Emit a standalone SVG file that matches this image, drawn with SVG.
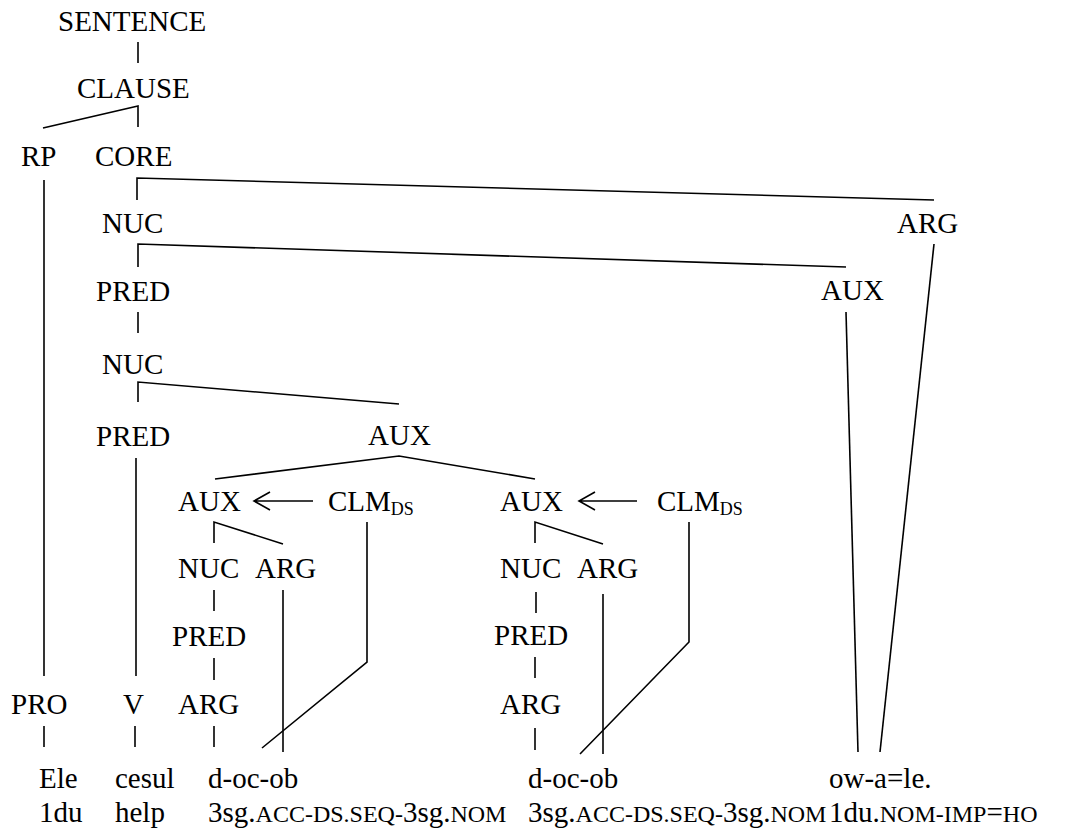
<svg xmlns="http://www.w3.org/2000/svg" width="1067" height="829" viewBox="0 0 1067 829">
  <style>
    text { font-family: "Liberation Serif", "Times New Roman", serif; font-size: 29px; fill: #000; }
    .sc { font-size: 24px; }
    .sub { font-size: 18px; }
    .edge { fill: none; stroke: #000; stroke-width: 1.6; }
  </style>
  <rect width="1067" height="829" fill="#fff"/>

  <!-- tree edges -->
  <g id="connectors" class="edge">
    <path d="M138 42V63"/>
    <path d="M43 128L138 106V127"/>
    <path d="M44 180V676"/>
    <path d="M137 200V178L934 200"/>
    <path d="M934 244L880 752"/>
    <path d="M138 267V244L846 267"/>
    <path d="M846 312L858 752"/>
    <path d="M138 312V333"/>
    <path d="M138 402V382L399 404"/>
    <path d="M136 458V676"/>
    <path d="M215 479L399 456L535 479"/>
    <!-- left auxiliary cluster -->
    <path d="M313 501H254M270 492L254 501L270 510"/>
    <path d="M367 522V662L262 748"/>
    <path d="M214 543V522L283 544"/>
    <path d="M283 590V752"/>
    <path d="M214 590V611"/>
    <path d="M214 658V680"/>
    <path d="M214 726V747"/>
    <path d="M44 726V747"/>
    <path d="M135 726V747"/>
    <!-- right auxiliary cluster -->
    <path d="M637 501H579M595 492L579 501L595 510"/>
    <path d="M689 522V642L580 754"/>
    <path d="M535 543V522L603 544"/>
    <path d="M603 594V754"/>
    <path d="M536 592V613"/>
    <path d="M535 657V678"/>
    <path d="M535 728V750"/>
  </g>

  <g id="sentence"><text x="58" y="31">SENTENCE</text></g>
  <g id="clause"><text x="77" y="98">CLAUSE</text></g>
  <g id="rp"><text x="21" y="166">RP</text></g>
  <g id="core"><text x="95" y="166">CORE</text></g>
  <g id="nuc1"><text x="102" y="233">NUC</text></g>
  <g id="arg-core"><text x="897" y="233">ARG</text></g>
  <g id="pred1"><text x="96" y="301">PRED</text></g>
  <g id="aux-nuc"><text x="821" y="300">AUX</text></g>
  <g id="nuc2"><text x="102" y="374">NUC</text></g>
  <g id="pred2"><text x="96" y="446">PRED</text></g>
  <g id="aux-mid"><text x="368" y="445">AUX</text></g>

  <g id="aux-left"><text x="178" y="511">AUX</text></g>
  <g id="clm-left"><text x="328" y="511">CLM<tspan class="sub" dy="4">DS</tspan></text></g>
  <g id="nuc-left"><text x="178" y="578">NUC</text></g>
  <g id="arg-left"><text x="255" y="578">ARG</text></g>
  <g id="pred-left"><text x="172" y="646">PRED</text></g>
  <g id="arg-left-low"><text x="178" y="714">ARG</text></g>

  <g id="aux-right"><text x="500" y="511">AUX</text></g>
  <g id="clm-right"><text x="657" y="511">CLM<tspan class="sub" dy="4">DS</tspan></text></g>
  <g id="nuc-right"><text x="500" y="578">NUC</text></g>
  <g id="arg-right"><text x="577" y="578">ARG</text></g>
  <g id="pred-right"><text x="494" y="645">PRED</text></g>
  <g id="arg-right-low"><text x="500" y="714">ARG</text></g>

  <g id="pro"><text x="11" y="714">PRO</text></g>
  <g id="v"><text x="123" y="714">V</text></g>

  <!-- words and glosses -->
  <g id="w-ele"><text x="39" y="788">Ele</text><text x="39" y="822">1du</text></g>
  <g id="w-cesul"><text x="115" y="788">cesul</text><text x="115" y="822">help</text></g>
  <g id="w-docob1"><text x="208" y="788">d-oc-ob</text><text x="208" y="822">3sg.<tspan class="sc">ACC-DS.SEQ-</tspan>3sg.<tspan class="sc">NOM</tspan></text></g>
  <g id="w-docob2"><text x="528" y="788">d-oc-ob</text><text x="528" y="822">3sg.<tspan class="sc">ACC-DS.SEQ-</tspan>3sg.<tspan class="sc">NOM</tspan></text></g>
  <g id="w-owale"><text x="829" y="788">ow-a=le.</text><text x="829" y="822">1du.<tspan class="sc">NOM-IMP</tspan>=<tspan class="sc">HO</tspan></text></g>
</svg>
